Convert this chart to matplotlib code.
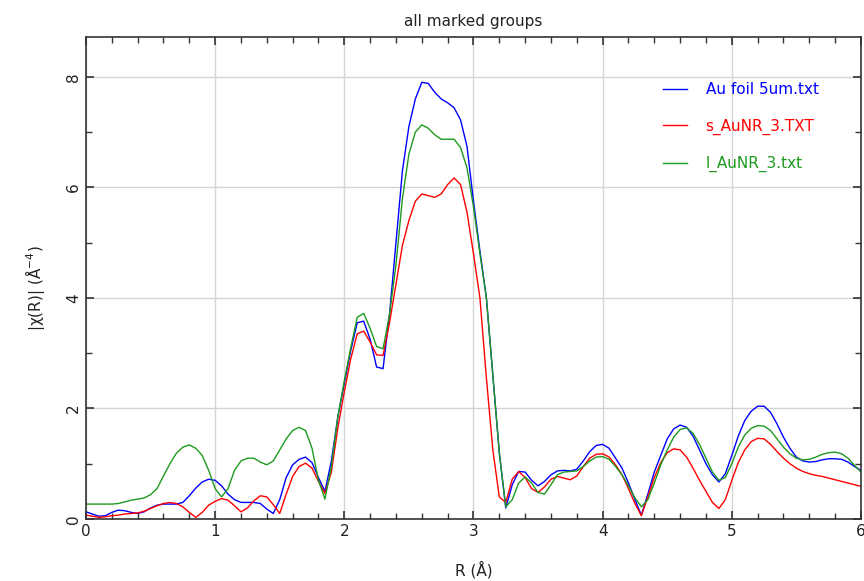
import numpy as np
import matplotlib
matplotlib.use("Agg")
import matplotlib.pyplot as plt
from matplotlib.ticker import MultipleLocator

# R grid (Angstrom)
r = np.round(np.arange(0, 6.0001, 0.05), 2)

au_foil = [0.13, 0.09, 0.05, 0.06, 0.12, 0.16, 0.15, 0.12, 0.10, 0.13,
           0.20, 0.25, 0.27, 0.27, 0.27, 0.30, 0.42, 0.56, 0.67, 0.72,
           0.70, 0.60, 0.45, 0.35, 0.30, 0.30, 0.30, 0.28, 0.18, 0.10,
           0.35, 0.75, 0.98, 1.08, 1.12, 1.02, 0.75, 0.50, 1.05, 1.85,
           2.45, 3.05, 3.55, 3.58, 3.25, 2.75, 2.72, 3.70, 5.00, 6.30,
           7.10, 7.60, 7.90, 7.88, 7.72, 7.60, 7.53, 7.44, 7.22, 6.74,
           5.75, 4.85, 4.00, 2.60, 1.20, 0.20, 0.62, 0.86, 0.85, 0.70,
           0.60, 0.68, 0.80, 0.87, 0.88, 0.87, 0.90, 1.05, 1.22, 1.33,
           1.35, 1.28, 1.10, 0.92, 0.65, 0.35, 0.07, 0.45, 0.85, 1.15,
           1.45, 1.63, 1.70, 1.66, 1.50, 1.25, 1.00, 0.80, 0.67, 0.82,
           1.15, 1.50, 1.78, 1.95, 2.04, 2.04, 1.93, 1.72, 1.48, 1.28,
           1.12, 1.05, 1.03, 1.04, 1.07, 1.09, 1.09, 1.08, 1.03, 0.95,
           0.88]

s_aunr = [0.07, 0.05, 0.03, 0.04, 0.06, 0.07, 0.09, 0.10, 0.11, 0.14,
          0.19, 0.24, 0.28, 0.30, 0.28, 0.22, 0.12, 0.03, 0.12, 0.25,
          0.32, 0.37, 0.34, 0.24, 0.13, 0.20, 0.33, 0.42, 0.40, 0.26,
          0.10, 0.45, 0.77, 0.95, 1.01, 0.92, 0.68, 0.46, 0.85, 1.65,
          2.30, 2.90, 3.35, 3.40, 3.20, 2.97, 2.96, 3.55, 4.25, 4.95,
          5.40, 5.75, 5.88, 5.85, 5.82, 5.88, 6.05, 6.17, 6.05, 5.55,
          4.80, 4.00, 2.55, 1.25, 0.40, 0.30, 0.72, 0.86, 0.75, 0.55,
          0.48, 0.58, 0.72, 0.77, 0.74, 0.71, 0.78, 0.95, 1.10, 1.17,
          1.18, 1.12, 0.98, 0.80, 0.55, 0.28, 0.06, 0.40, 0.75, 1.02,
          1.20, 1.27, 1.25, 1.12, 0.92, 0.70, 0.50, 0.30, 0.19, 0.35,
          0.70, 1.02, 1.25, 1.40, 1.46, 1.45, 1.35, 1.22, 1.10, 1.00,
          0.92, 0.86, 0.82, 0.79, 0.77, 0.74, 0.71, 0.68, 0.65, 0.62,
          0.59]

l_aunr = [0.27, 0.27, 0.27, 0.27, 0.27, 0.28, 0.31, 0.34, 0.36, 0.38,
          0.44, 0.55, 0.78, 1.00, 1.19, 1.30, 1.34, 1.28, 1.15, 0.88,
          0.55, 0.40, 0.55, 0.88, 1.05, 1.10, 1.10, 1.03, 0.98, 1.05,
          1.25, 1.45, 1.60, 1.66, 1.60, 1.28, 0.70, 0.36, 0.95, 1.85,
          2.50, 3.10, 3.65, 3.72, 3.45, 3.12, 3.08, 3.70, 4.60, 5.80,
          6.60, 7.00, 7.13, 7.07, 6.95, 6.87, 6.87, 6.87, 6.72, 6.35,
          5.65, 4.80, 4.00, 2.60, 1.20, 0.22, 0.35, 0.65, 0.76, 0.65,
          0.48, 0.45, 0.62, 0.80, 0.85, 0.86, 0.87, 0.95, 1.05, 1.12,
          1.13, 1.08, 0.95, 0.80, 0.60, 0.38, 0.22, 0.35, 0.65, 0.98,
          1.25, 1.48, 1.62, 1.65, 1.55, 1.35, 1.10, 0.85, 0.70, 0.75,
          1.00, 1.30, 1.52, 1.64, 1.69, 1.68, 1.60, 1.45, 1.30, 1.18,
          1.10, 1.07, 1.08, 1.12, 1.17, 1.20, 1.21, 1.18, 1.10, 0.97,
          0.85]

labels = ["Au foil 5um.txt", "s_AuNR_3.TXT", "l_AuNR_3.txt"]
colors = ["#0000ff", "#ff0000", "#1e9a1e"]

fig = plt.figure(figsize=(8.64, 5.81), dpi=100)
ax = fig.add_axes([0.0995, 0.1067, 0.897, 0.8296])

for vals, lab, col in zip([au_foil, s_aunr, l_aunr], labels, colors):
    ax.plot(r, vals, color=col, lw=1.0, label=lab)

ax.set_xlim(0, 6)
ax.set_ylim(0, 8.72)
ax.xaxis.set_major_locator(MultipleLocator(1))
ax.xaxis.set_minor_locator(MultipleLocator(0.2))
ax.yaxis.set_major_locator(MultipleLocator(2))
ax.yaxis.set_minor_locator(MultipleLocator(1))
ax.tick_params(which="both", direction="in", top=True, right=True,
               colors="#333333", labelcolor="#222222", labelsize=11)
ax.tick_params(which="major", length=6, width=1.2)
ax.tick_params(which="minor", length=4, width=1.0)
for lbl in ax.get_yticklabels():
    lbl.set_rotation(90)
    lbl.set_va("center")
for sp in ax.spines.values():
    sp.set_color("#333333")
    sp.set_linewidth(1.2)
ax.grid(True, which="major", color="#d4d4d4", lw=1.0)
ax.set_axisbelow(True)

ax.set_title("all marked groups", fontsize=11, color="#222222", pad=8)
ax.set_xlabel("R (Å)", fontsize=11, color="#222222")
ax.set_ylabel("|χ(R)| (Å$^{-4}$)", fontsize=11, color="#222222")
ax.xaxis.set_label_coords(0.5, -0.088)
ax.yaxis.set_label_coords(-0.05, 0.48)

ax.legend(loc="upper right", frameon=False, labelcolor="linecolor",
          fontsize=11, handlelength=1.6, handletextpad=1.2,
          labelspacing=1.4, bbox_to_anchor=(0.963, 0.935))

fig.savefig("out.png", dpi=100)
